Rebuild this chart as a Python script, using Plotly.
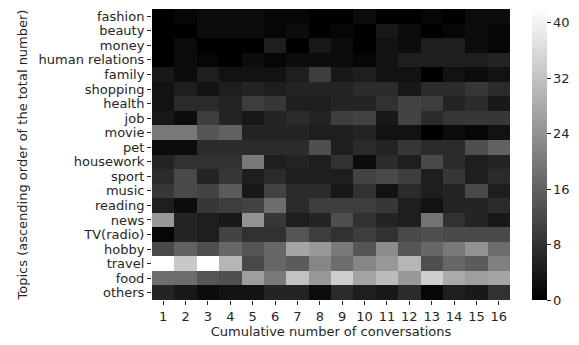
import plotly.graph_objects as go

topics = ["fashion", "beauty", "money", "human relations", "family", "shopping", "health",
          "job", "movie", "pet", "housework", "sport", "music", "reading", "news",
          "TV(radio)", "hobby", "travel", "food", "others"]
conversations = list(range(1, 17))

fashion = [0, 1, 2, 2, 2, 1, 1, 0, 0, 2, 0, 0, 1, 0, 2, 2]
beauty = [0, 0, 2, 2, 2, 1, 2, 0, 1, 0, 4, 2, 0, 1, 2, 1]
money = [0, 2, 0, 0, 0, 5, 0, 4, 2, 0, 3, 2, 5, 5, 2, 1]
human_relations = [0, 2, 1, 0, 2, 1, 2, 2, 2, 1, 3, 5, 5, 5, 5, 6]
family = [4, 2, 5, 3, 3, 3, 5, 10, 4, 5, 3, 3, 0, 3, 2, 3]
shopping = [3, 5, 3, 5, 6, 5, 6, 6, 6, 7, 7, 4, 7, 7, 9, 7]
health = [3, 7, 7, 6, 10, 9, 5, 5, 6, 6, 8, 11, 10, 6, 7, 4]
job = [4, 2, 10, 6, 4, 6, 7, 6, 10, 11, 4, 11, 7, 9, 9, 9]
movie = [20, 20, 14, 16, 6, 6, 6, 5, 5, 6, 3, 3, 0, 2, 1, 3]
pet = [2, 2, 7, 7, 7, 7, 7, 13, 5, 7, 6, 9, 7, 7, 13, 16]
housework = [6, 8, 8, 8, 20, 5, 6, 5, 8, 2, 7, 5, 12, 7, 5, 6]
sport = [7, 12, 6, 9, 5, 7, 5, 5, 5, 11, 12, 10, 5, 9, 5, 7]
music = [9, 12, 11, 15, 4, 11, 7, 7, 4, 8, 3, 7, 5, 6, 12, 5]
reading = [5, 2, 9, 10, 11, 18, 7, 10, 10, 10, 9, 5, 3, 6, 6, 7]
news = [25, 6, 5, 4, 24, 9, 5, 6, 13, 8, 6, 5, 19, 8, 6, 4]
tv_radio = [1, 6, 5, 11, 8, 8, 14, 10, 8, 10, 8, 12, 13, 12, 12, 12]
hobby = [12, 16, 13, 17, 14, 17, 27, 25, 20, 14, 23, 14, 17, 20, 24, 18]
travel = [42, 33, 42, 30, 12, 17, 15, 22, 18, 22, 25, 30, 13, 17, 15, 21]
food = [18, 18, 14, 13, 26, 20, 32, 25, 34, 27, 31, 25, 34, 28, 26, 27]
others = [6, 4, 2, 3, 3, 6, 6, 2, 7, 5, 4, 7, 1, 5, 4, 8]

z = [fashion, beauty, money, human_relations, family, shopping, health, job, movie, pet,
     housework, sport, music, reading, news, tv_radio, hobby, travel, food, others]

FONT = "DejaVu Sans"
TXT = "#262626"
W, H = 579, 345
L, R, T, B = 152, 510, 9, 300

fig = go.Figure(go.Heatmap(
    z=z, x=conversations, y=topics,
    colorscale=[[0, "black"], [1, "white"]],
    zmin=0, zmax=42,
    colorbar=dict(
        thickness=15, x=(532 - L) / (R - L), xanchor="left", xpad=0, ypad=0,
        len=1, lenmode="fraction", y=0.5, yanchor="middle",
        outlinewidth=0, ticks="outside", ticklen=4, tickwidth=1, tickcolor=TXT,
        tickvals=[0, 8, 16, 24, 32, 40],
        tickfont=dict(family=FONT, size=13, color=TXT),
    ),
))

fig.update_layout(
    width=W, height=H,
    margin=dict(l=L, r=W - R, t=T, b=H - B, autoexpand=False),
    paper_bgcolor="white", plot_bgcolor="white",
    font=dict(family=FONT, size=13, color=TXT),
    xaxis=dict(
        tickmode="array", tickvals=conversations, automargin=False,
        ticks="outside", ticklen=4, tickcolor=TXT, showgrid=False, zeroline=False,
        title=dict(text="Cumulative number of conversations", standoff=4,
                   font=dict(family=FONT, size=13, color=TXT)),
        tickfont=dict(family=FONT, size=13, color=TXT),
    ),
    yaxis=dict(
        autorange="reversed", tickmode="array", tickvals=topics, automargin=False,
        ticks="outside", ticklen=4, tickcolor=TXT,
        showgrid=False, zeroline=False,
        title=dict(text="Topics (ascending order of the total number)", standoff=8,
                   font=dict(family=FONT, size=13, color=TXT)),
        tickfont=dict(family=FONT, size=13, color=TXT),
    ),
)

fig.write_html("out.html", config={"displayModeBar": False},
               post_script="document.body.style.margin='0';document.body.style.padding='0';")
